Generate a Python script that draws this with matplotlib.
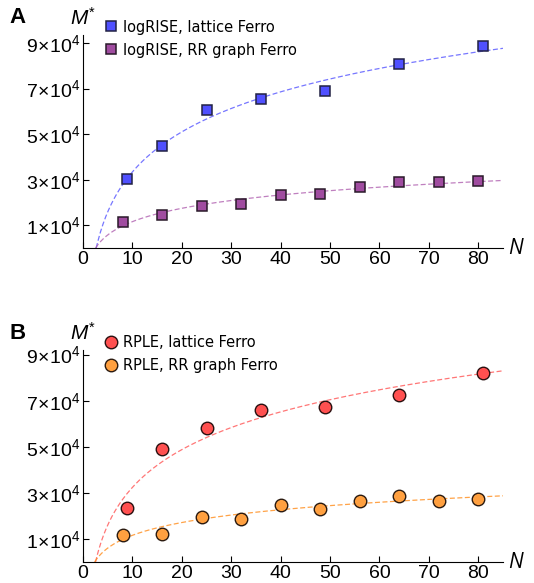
import numpy as np
import matplotlib
matplotlib.use("Agg")
import matplotlib.pyplot as plt
from matplotlib.ticker import FuncFormatter

plt.rcParams["font.family"] = ["Liberation Sans", "DejaVu Sans"]
plt.rcParams["mathtext.fontset"] = "custom"
plt.rcParams["mathtext.rm"] = "Liberation Sans"
plt.rcParams["mathtext.it"] = "Liberation Sans:italic"

# panel A: logRISE
n_lat_a = [9, 16, 25, 36, 49, 64, 81]
m_lat_a = [3.03e4, 4.48e4, 6.06e4, 6.53e4, 6.87e4, 8.07e4, 8.87e4]
n_rr_a = [8, 16, 24, 32, 40, 48, 56, 64, 72, 80]
m_rr_a = [1.16e4, 1.46e4, 1.83e4, 1.91e4, 2.32e4, 2.37e4, 2.67e4, 2.90e4, 2.90e4, 2.93e4]

# panel B: RPLE
n_lat_b = [9, 16, 25, 36, 49, 64, 81]
m_lat_b = [2.35e4, 4.91e4, 5.81e4, 6.58e4, 6.72e4, 7.23e4, 8.22e4]
n_rr_b = [8, 16, 24, 32, 40, 48, 56, 64, 72, 80]
m_rr_b = [1.17e4, 1.23e4, 1.94e4, 1.87e4, 2.46e4, 2.32e4, 2.64e4, 2.87e4, 2.65e4, 2.75e4]

y_ticks = [1e4, 3e4, 5e4, 7e4, 9e4]
x_ticks = [0, 10, 20, 30, 40, 50, 60, 70, 80]

fig = plt.figure(figsize=(5.34, 5.83), dpi=100)
ax_a = fig.add_axes([0.1554, 0.5746, 0.7865, 0.3654])
ax_b = fig.add_axes([0.1554, 0.036, 0.7865, 0.3636])


def log_fit(ax, n, m, color):
    a, b = np.polyfit(np.log(n), m, 1)
    n0 = np.exp(-b / a)
    xs = np.linspace(n0, 85, 300)
    ax.plot(xs, a * np.log(xs) + b, ls=(0, (4, 2)), lw=0.9, color=color, alpha=0.8, zorder=1)


def style(ax, label, top):
    ax.set_xlim(0, 85)
    ax.set_ylim(0, top)
    ax.spines[["top", "right"]].set_visible(False)
    ax.set_xticks(x_ticks)
    ax.set_yticks(y_ticks)
    ax.yaxis.set_major_formatter(FuncFormatter(
        lambda v, p: r"$%d\!\times\!10^{4}$" % round(v / 1e4)))
    ax.tick_params(direction="in", length=4, width=0.8, labelsize=14, pad=2)
    ax.text(1.012, 0.0, "N", transform=ax.transAxes, fontsize=15, style="italic",
            ha="left", va="center", family="Open Sans")
    ax.text(0.0, 1.08, r"$M^{*}$", transform=ax.transAxes, fontsize=15,
            ha="center", va="center")
    ax.text(-0.175, 1.08, label, transform=ax.transAxes, fontsize=16,
            fontweight="bold", ha="left", va="center")


log_fit(ax_a, n_lat_a, m_lat_a, "#5555ff")
log_fit(ax_a, n_rr_a, m_rr_a, "#b060b0")
ax_a.plot(n_lat_a, m_lat_a, "s", ms=7.5, mfc="#5050ff", mec="#222244", mew=1.1,
          label="logRISE, lattice Ferro", zorder=3)
ax_a.plot(n_rr_a, m_rr_a, "s", ms=7.5, mfc="#a04ca0", mec="#2a1a2a", mew=1.1,
          label="logRISE, RR graph Ferro", zorder=3)
style(ax_a, "A", 9.35e4)

log_fit(ax_b, n_lat_b, m_lat_b, "#ff5555")
log_fit(ax_b, n_rr_b, m_rr_b, "#ff8c1a")
ax_b.plot(n_lat_b, m_lat_b, "o", ms=9, mfc="#ff5050", mec="#2a1010", mew=1.0,
          label="RPLE, lattice Ferro", zorder=3)
ax_b.plot(n_rr_b, m_rr_b, "o", ms=9, mfc="#ffa040", mec="#2a1a10", mew=1.0,
          label="RPLE, RR graph Ferro", zorder=3)
style(ax_b, "B", 9.2e4)

for ax in (ax_a, ax_b):
    ax.legend(loc="upper left", bbox_to_anchor=(0.043, 1.1), frameon=False,
              handlelength=0.6, handletextpad=0.5, labelspacing=0.55,
              borderaxespad=0, prop={"family": "DejaVu Sans", "size": 10.5})

fig.savefig("out.png", dpi=100)
